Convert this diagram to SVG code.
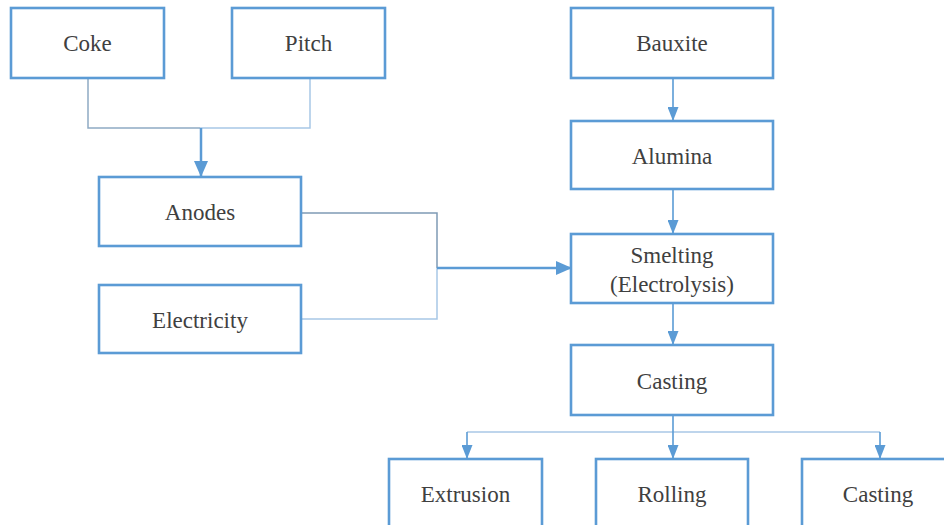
<svg xmlns="http://www.w3.org/2000/svg" width="944" height="525" viewBox="0 0 944 525">
  <style>
    .box { fill: #ffffff; stroke: #5b9bd5; stroke-width: 2.6; }
    .lbl { font-size: 23px; fill: #404040; text-anchor: middle; }
    .ln { fill: none; stroke-width: 1.5; }
    .thick { fill: none; stroke: #5b9bd5; stroke-width: 2.5; }
    .thin { fill: none; stroke: #5b9bd5; stroke-width: 1.6; }
  </style>
  <defs>
    <marker id="arrowBig" viewBox="0 0 16 14" refX="16" refY="7" markerWidth="16" markerHeight="14" markerUnits="userSpaceOnUse" orient="auto">
      <path d="M0,0 L16,7 L0,14 Z" fill="#5b9bd5"/>
    </marker>
    <marker id="arrowSmall" viewBox="0 0 14 11" refX="14" refY="5.5" markerWidth="14" markerHeight="11" markerUnits="userSpaceOnUse" orient="auto">
      <path d="M0,0 L14,5.5 L0,11 Z" fill="#5b9bd5"/>
    </marker>
  </defs>

  <rect width="944" height="525" fill="#ffffff"/>

  <g id="connectors">
    <!-- Coke + Pitch feed Anodes -->
    <path class="ln" stroke="#8faac3" d="M88,78 V128 H200"/>
    <path class="ln" stroke="#a8c7e6" d="M310,78 V128 H200"/>
    <path class="thick" d="M201,128 V177" marker-end="url(#arrowBig)"/>
    <!-- Anodes + Electricity feed Smelting -->
    <path class="ln" stroke="#7f9bb5" d="M301,213 H437 V268"/>
    <path class="ln" stroke="#a8c7e6" d="M301,319 H437 V268"/>
    <path class="thick" d="M437,268 H572" marker-end="url(#arrowBig)"/>
    <!-- main vertical chain -->
    <path class="thin" d="M673,78 V121" marker-end="url(#arrowSmall)"/>
    <path class="thin" d="M673,189 V234" marker-end="url(#arrowSmall)"/>
    <path class="thin" d="M673,303 V345" marker-end="url(#arrowSmall)"/>
    <!-- Casting splits into three products -->
    <path class="ln" stroke="#a8c7e6" d="M467,432 H880"/>
    <path class="thin" d="M673,415 V459" marker-end="url(#arrowSmall)"/>
    <path class="thin" d="M467,432 V459" marker-end="url(#arrowSmall)"/>
    <path class="thin" d="M880,432 V459" marker-end="url(#arrowSmall)"/>
  </g>

  <g id="labels-font" font-family="Liberation Serif, Times New Roman, Tinos, Noto Serif, serif">
  <g id="coke">
    <rect class="box" x="11" y="8" width="153" height="70"/>
    <text class="lbl" x="87.5" y="51">Coke</text>
  </g>
  <g id="pitch">
    <rect class="box" x="232" y="8" width="153" height="70"/>
    <text class="lbl" x="308.5" y="51">Pitch</text>
  </g>
  <g id="anodes">
    <rect class="box" x="99" y="177" width="202" height="69"/>
    <text class="lbl" x="200" y="220">Anodes</text>
  </g>
  <g id="electricity">
    <rect class="box" x="99" y="285" width="202" height="68"/>
    <text class="lbl" x="200" y="328">Electricity</text>
  </g>
  <g id="bauxite">
    <rect class="box" x="571" y="8" width="202" height="70"/>
    <text class="lbl" x="672" y="51">Bauxite</text>
  </g>
  <g id="alumina">
    <rect class="box" x="571" y="121" width="202" height="68"/>
    <text class="lbl" x="672" y="164">Alumina</text>
  </g>
  <g id="smelting">
    <rect class="box" x="571" y="234" width="202" height="69"/>
    <text class="lbl" x="672" y="263">Smelting</text>
    <text class="lbl" x="672" y="292">(Electrolysis)</text>
  </g>
  <g id="casting">
    <rect class="box" x="571" y="345" width="202" height="70"/>
    <text class="lbl" x="672" y="389">Casting</text>
  </g>
  <g id="extrusion">
    <rect class="box" x="389" y="459" width="153" height="72"/>
    <text class="lbl" x="465.5" y="502">Extrusion</text>
  </g>
  <g id="rolling">
    <rect class="box" x="596" y="459" width="152" height="72"/>
    <text class="lbl" x="672" y="502">Rolling</text>
  </g>
  <g id="casting-product">
    <rect class="box" x="802" y="459" width="153" height="72"/>
    <text class="lbl" x="878" y="502">Casting</text>
  </g>
  </g>
</svg>
